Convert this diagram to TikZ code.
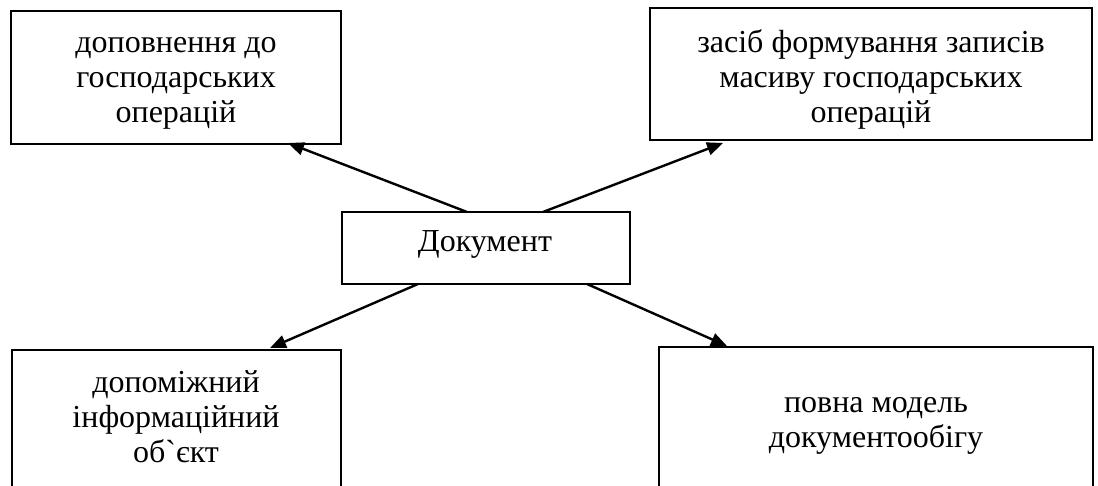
\documentclass[tikz,border=0pt]{standalone}
\usepackage{fontspec}
\setmainfont{Liberation Serif}[Ligatures=TeXOff]
\usetikzlibrary{arrows.meta}
\newcommand\stacklines[1]{\vtop{\halign{\hfil##\hfil\cr#1\crcr}}}
\begin{document}
\begin{tikzpicture}[x=1pt,y=-1pt,
  boxnode/.style={draw=black,line width=1.6pt,rectangle,inner sep=0pt},
  txtnode/.style={anchor=base,inner sep=0pt,font=\fontsize{32}{35}\selectfont},
  arrowline/.style={line width=2.4pt,-{Triangle[length=16pt,width=13pt]}}]
\useasboundingbox[fill=white] (0,0) rectangle (1098,486);
% boxes
\node[boxnode,minimum width=330pt,minimum height=133pt] (tl) at (176,77.5) {};
\node[boxnode,minimum width=442pt,minimum height=132pt] (tr) at (871,74) {};
\node[boxnode,minimum width=288pt,minimum height=72pt] (doc) at (486,248) {};
\node[boxnode,minimum width=329pt,minimum height=200pt] (bl) at (176.5,450) {};
\node[boxnode,minimum width=434pt,minimum height=200pt] (br) at (876,447) {};
% texts
\node[txtnode] (tlT) at (176,53) {\stacklines{доповнення до\cr господарських\cr операцій}};
\node[txtnode] (trT) at (871,53) {\stacklines{засіб формування записів\cr масиву господарських\cr операцій}};
\node[txtnode] (docT) at (485,252) {Документ};
\node[txtnode] (blT) at (176,392) {\stacklines{допоміжний\cr інформаційний\cr об`єкт}};
\node[txtnode] (brT) at (876,412) {\stacklines{повна модель\cr документообігу}};
% connector ends
\coordinate (d1) at (467,212);
\coordinate (d2) at (543,212);
\coordinate (d3) at (418,284);
\coordinate (d4) at (587,284);
\coordinate (e1) at (288,143);
\coordinate (e2) at (723,143);
\coordinate (e3) at (270,348);
\coordinate (e4) at (727,346);
\draw[arrowline] (d1) -- (e1);
\draw[arrowline] (d2) -- (e2);
\draw[arrowline] (d3) -- (e3);
\draw[arrowline] (d4) -- (e4);
\end{tikzpicture}
\end{document}
